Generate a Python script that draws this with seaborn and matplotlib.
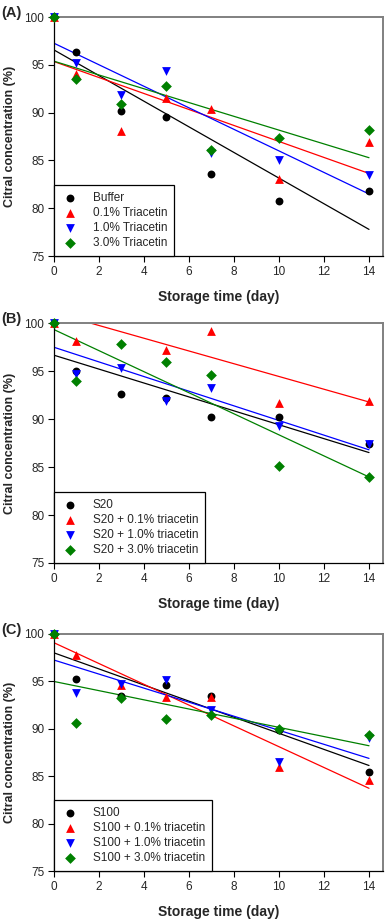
import matplotlib
matplotlib.use("Agg")
import matplotlib.pyplot as plt
from matplotlib.patches import Rectangle
import seaborn as sns
import numpy as np

# ---- data ----
days = [0, 1, 3, 5, 7, 10, 14]

labels_a = ["Buffer", "0.1% Triacetin", "1.0% Triacetin", "3.0% Triacetin"]
a_buffer = [100, 96.4, 90.2, 89.5, 83.6, 80.8, 81.8]
a_tri01 = [100, 94.0, 88.1, 91.5, 90.4, 83.1, 86.9]
a_tri10 = [100, 95.2, 91.9, 94.4, 85.8, 85.0, 83.5]
a_tri30 = [100, 93.5, 90.9, 92.8, 86.05, 87.4, 88.2]

labels_b = ["S20", "S20 + 0.1% triacetin", "S20 + 1.0% triacetin", "S20 + 3.0% triacetin"]
b_s20 = [100, 95.0, 92.6, 92.2, 90.2, 90.2, 87.4]
b_tri01 = [100, 98.1, 102.9, 97.2, 99.2, 91.7, 91.9]
b_tri10 = [100, 94.7, 95.35, 91.9, 93.2, 89.3, 87.4]
b_tri30 = [100, 94.0, 97.8, 95.9, 94.6, 85.1, 84.0]

labels_c = ["S100", "S100 + 0.1% triacetin", "S100 + 1.0% triacetin", "S100 + 3.0% triacetin"]
c_s100 = [100, 95.2, 93.5, 94.6, 93.5, 89.9, 85.4]
c_tri01 = [100, 97.75, 94.6, 93.3, 93.4, 86.0, 84.6]
c_tri10 = [100, 93.8, 94.7, 95.1, 92.0, 86.5, 89.0]
c_tri30 = [100, 90.6, 93.2, 91.0, 91.45, 90.0, 89.3]

panel_letters = ["(A)", "(B)", "(C)"]
x_ticks = [0, 2, 4, 6, 8, 10, 12, 14]
y_ticks = [75, 80, 85, 90, 95, 100]

colors = ["black", "#ff0000", "#0000ff", "#008000"]
markers = ["o", "^", "v", "D"]
msizes = [32, 40, 40, 30]

sns.set_style("ticks")
plt.rcParams["font.family"] = ["Liberation Sans", "DejaVu Sans"]

fig = plt.figure(figsize=(3.88, 9.19), dpi=100)

panels = [
    (labels_a, [a_buffer, a_tri01, a_tri10, a_tri30], 0.7214, 0.260),
    (labels_b, [b_s20, b_tri01, b_tri10, b_tri30], 0.3874, 0.261),
    (labels_c, [c_s100, c_tri01, c_tri10, c_tri30], 0.0522, 0.258),
]

for i, (labs, series, bottom, height) in enumerate(panels):
    ax = fig.add_axes([0.139, bottom, 0.848, height])
    for j, ys in enumerate(series):
        sns.regplot(x=np.array(days, dtype=float), y=np.array(ys, dtype=float), ax=ax,
                    ci=None, marker=markers[j], color=colors[j], label=labs[j],
                    scatter_kws=dict(s=msizes[j], linewidths=0, zorder=3, alpha=1),
                    line_kws=dict(lw=0.9, zorder=2))
    clip = Rectangle((-0.03, -0.03), 1.06, 1.06, transform=ax.transAxes)
    for coll in ax.collections:
        coll.set_clip_path(clip)
    ax.set_xlim(0, 14.62)
    ax.set_ylim(75, 100)
    ax.set_xticks(x_ticks)
    ax.set_yticks(y_ticks)
    ax.tick_params(labelsize=8.5, length=4, width=0.8, pad=3, color="black")
    for s in ["left", "bottom"]:
        ax.spines[s].set_color("black")
        ax.spines[s].set_linewidth(0.9)
    for s in ["top", "right"]:
        ax.spines[s].set_visible(True)
        ax.spines[s].set_color("#808080")
        ax.spines[s].set_linewidth(1.4)
    ax.set_xlabel("Storage time (day)", fontsize=10, fontweight="bold", labelpad=9)
    ax.set_ylabel("Citral concentration (%)", fontsize=9, fontweight="bold", labelpad=6)
    leg = ax.legend(loc="lower left", bbox_to_anchor=(0, 0), borderaxespad=0,
                    fontsize=8.5, frameon=True, fancybox=False, handletextpad=1.2,
                    labelspacing=0.25, borderpad=0.6, handlelength=1.5)
    leg.get_frame().set_edgecolor("black")
    leg.get_frame().set_linewidth(0.9)
    leg.get_frame().set_alpha(1)
    leg.set_zorder(5)
    fig.text(0.003, bottom + height + 0.004, panel_letters[i], fontsize=10.5,
             fontweight="bold", va="center", ha="left")

fig.savefig("out.png", dpi=100)
